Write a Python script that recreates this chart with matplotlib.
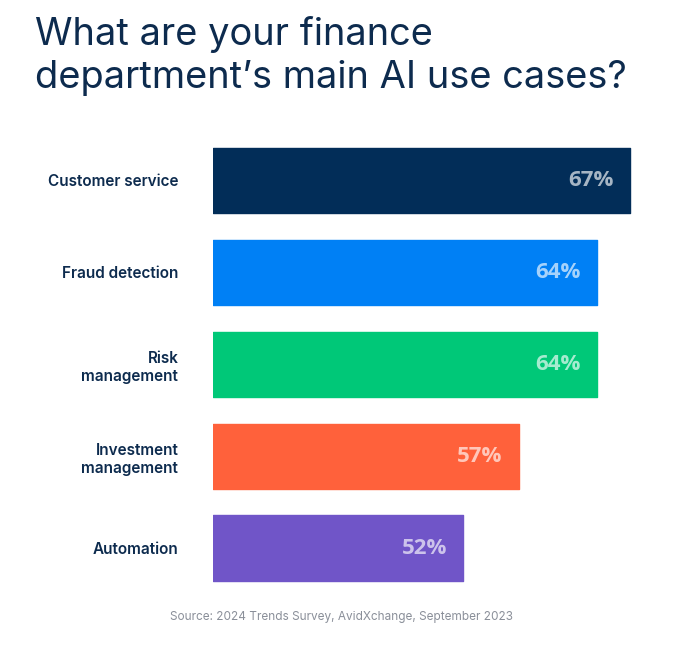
import matplotlib.pyplot as plt

# данные
categories = ['Customer service', 'Fraud detection', 'Risk\nmanagement',
              'Investment\nmanagement', 'Automation']
values = [67, 64, 64, 57, 52]
value_labels = ['67%', '64%', '64%', '57%', '52%']
colors = ['#022d58', '#0080f5', '#00c878', '#ff613b', '#7055c8']

navy = '#0d2b4e'
base = 29.6  # bars in the original do not start at zero

fig = plt.figure(figsize=(6.95, 6.55), dpi=100)
W, H = 695, 655

# axes placed in pixel terms
left, right, top, bottom = 213, 660, 134.5, 594
ax = fig.add_axes([left / W, 1 - bottom / H, (right - left) / W, (bottom - top) / H])

ypos = list(range(len(categories)))
ax.barh(ypos, [v - base for v in values], left=base, height=0.71,
        color=colors, edgecolor=colors, linewidth=1, joinstyle='round')

ax.set_xlim(base, base + (right - left) / 11.15)
ax.set_ylim(len(categories) - 0.5, -0.5)

for y, v, lab in zip(ypos, values, value_labels):
    ax.annotate(lab, (v, y), xytext=(-16, 0), textcoords='offset pixels',
                ha='right', va='center', fontsize=16, fontweight='bold',
                family='Open Sans', color='white', alpha=0.65)

ax.set_yticks(ypos)
ax.set_yticklabels(categories, fontsize=11, fontweight='semibold', color=navy,
                   family='Inter', multialignment='right', linespacing=1.3)
ax.tick_params(axis='y', length=0, pad=25)
ax.set_xticks([])
for s in ax.spines.values():
    s.set_visible(False)

# заголовок
fig.text(35 / W, 1 - 16 / H, "What are your finance\ndepartment\u2019s main AI use cases?",
         ha='left', va='top', fontsize=27.4, color=navy, family='Inter',
         linespacing=1.24)

# источник
fig.text(342 / W, 1 - 617 / H, 'Source: 2024 Trends Survey, AvidXchange, September 2023',
         ha='center', va='center', fontsize=8.5, color='#8a8f99', family='Inter')

fig.savefig('out.png', dpi=100, facecolor='white')
